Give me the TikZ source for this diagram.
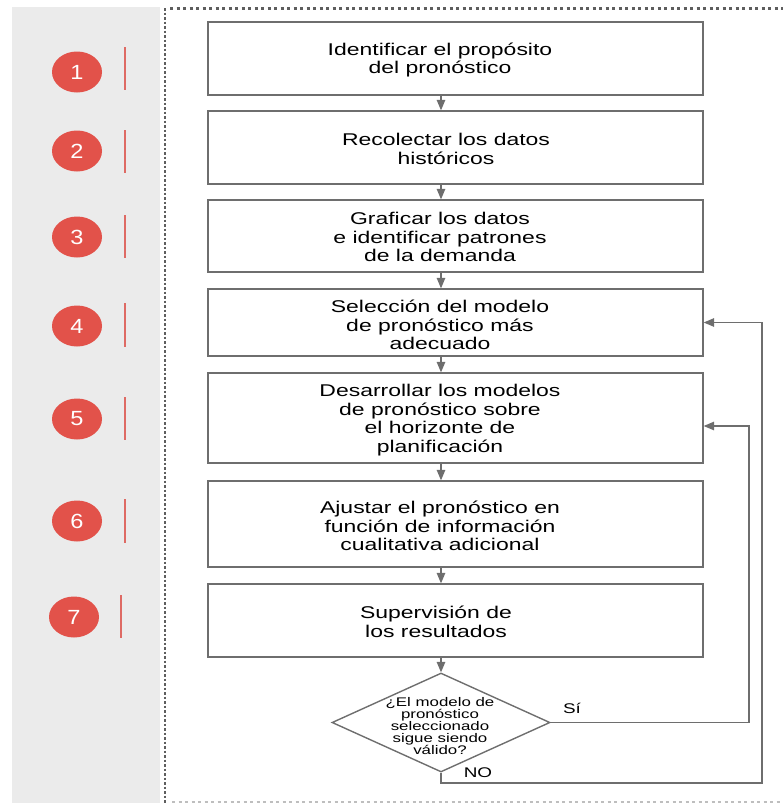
\documentclass[tikz,border=0pt]{standalone}
\usepackage{fontspec}
\setmainfont{Liberation Sans}[FakeStretch=1.35]
\newfontfamily\numfont{Liberation Sans}[FakeStretch=1.15]
\usepackage{xcolor}
\usetikzlibrary{arrows,shapes,positioning,calc}
\definecolor{stepred}{HTML}{E2524A}
\definecolor{barred}{HTML}{DE6A64}
\definecolor{panelgray}{HTML}{EBEBEB}
\definecolor{linegray}{HTML}{6E6E6E}
\definecolor{dotgray}{HTML}{5E5E5E}
\tikzset{
    proc-box/.style={
        rectangle,
        draw=linegray,
        line width=1.4pt,
        minimum width=495pt,
        inner sep=0pt
    },
    proc-text/.style={
        align=center,
        font=\fontsize{17}{18.5}\selectfont,
        inner sep=0pt
    },
    num-point/.style={
        ellipse,
        fill=stepred,
        text=white,
        minimum width=50pt,
        minimum height=41pt,
        inner sep=0pt,
        font=\numfont\fontsize{20.5}{20.5}\selectfont
    },
    num-bar/.style={
        draw=barred,
        line width=1.6pt
    },
    flow/.style={
        draw=linegray,
        line width=1.4pt,
        ->,>=triangle 45
    },
}

\begin{document}
\begin{tikzpicture}[x=1pt,y=-1pt]
        \useasboundingbox (0,0) rectangle (783,803);
        % left panel and dotted frame
        \fill[panelgray] (12,7) rectangle (160,803);
        \draw[dotgray,line width=2.6pt,dash pattern=on 2.5pt off 2pt] (165,8) -- (165,803);
        \draw[dotgray,line width=2.6pt,dash pattern=on 3pt off 3.5pt] (170,8.5) -- (783,8.5);
        \draw[dotgray!40,line width=2pt,dash pattern=on 3pt off 3.5pt] (172,802) -- (783,802);
        % step numbers
        \node [num-point] (N1) at (77,72) {1};
        \node [num-point] (N2) at (77,151) {2};
        \node [num-point] (N3) at (77,237) {3};
        \node [num-point] (N4) at (77,326) {4};
        \node [num-point] (N5) at (77,419) {5};
        \node [num-point] (N6) at (77,521) {6};
        \node [num-point] (N7) at (74,617) {7};
        \draw[num-bar] (125,47) -- (125,90);
        \draw[num-bar] (125,130) -- (125,173);
        \draw[num-bar] (125,215) -- (125,258);
        \draw[num-bar] (125,303) -- (125,347);
        \draw[num-bar] (125,397) -- (125,440);
        \draw[num-bar] (125,499) -- (125,543);
        \draw[num-bar] (121,595) -- (121,638);
        % process boxes
        \node [proc-box,minimum height=73pt] (B1) at (455.5,58.5) {};
        \node [proc-box,minimum height=73pt] (B2) at (455.5,147.5) {};
        \node [proc-box,minimum height=72pt] (B3) at (455.5,236) {};
        \node [proc-box,minimum height=67pt] (B4) at (455.5,322.5) {};
        \node [proc-box,minimum height=90pt] (B5) at (455.5,418) {};
        \node [proc-box,minimum height=86pt] (B6) at (455.5,524) {};
        \node [proc-box,minimum height=73pt] (B7) at (455.5,620.5) {};
        \node [proc-text] (T1) at (440,60) {Identificar el propósito\\del pronóstico};
        \node [proc-text] (T2) at (446,149) {Recolectar los datos\\históricos};
        \node [proc-text] (T3) at (440,237) {Graficar los datos\\e identificar patrones\\de la demanda};
        \node [proc-text] (T4) at (440,325) {Selección del modelo\\de pronóstico más\\adecuado};
        \node [proc-text] (T5) at (440,420) {Desarrollar los modelos\\de pronóstico sobre\\el horizonte de\\planificación};
        \node [proc-text] (T6) at (440,526) {Ajustar el pronóstico en\\función de información\\cualitativa adicional};
        \node [proc-text] (T7) at (436,622) {Supervisión de\\los resultados};
        % decision
        \node [diamond,draw=linegray,line width=1.4pt,minimum width=218pt,minimum height=99pt,inner sep=0pt] (D) at (441,722.5) {};
        \node [align=center,inner sep=0pt,font=\fontsize{12.5}{12}\selectfont] (DT) at (440,726) {¿El modelo de\\pronóstico\\seleccionado\\sigue siendo\\válido?};
        \node [font=\fontsize{14}{14}\selectfont] (SI) at (572,708) {Sí};
        \node [font=\fontsize{14}{14}\selectfont] (NO) at (478,773) {NO};
        \coordinate (SIturn) at (749,722.5);
        \coordinate (NOturn) at (762,783);
        % connectors
        \draw[flow] (B1.south -| D) -- (B2.north -| D);
        \draw[flow] (B2.south -| D) -- (B3.north -| D);
        \draw[flow] (B3.south -| D) -- (B4.north -| D);
        \draw[flow] (B4.south -| D) -- (B5.north -| D);
        \draw[flow] (B5.south -| D) -- (B6.north -| D);
        \draw[flow] (B6.south -| D) -- (B7.north -| D);
        \draw[flow] (B7.south -| D) -- (D.north);
        \draw[flow] (D.east) -- (SIturn) |- ($(B5.east)+(0,8)$);
        \draw[flow] (D.south) |- (NOturn) |- (B4.east);
    \end{tikzpicture}
\end{document}
